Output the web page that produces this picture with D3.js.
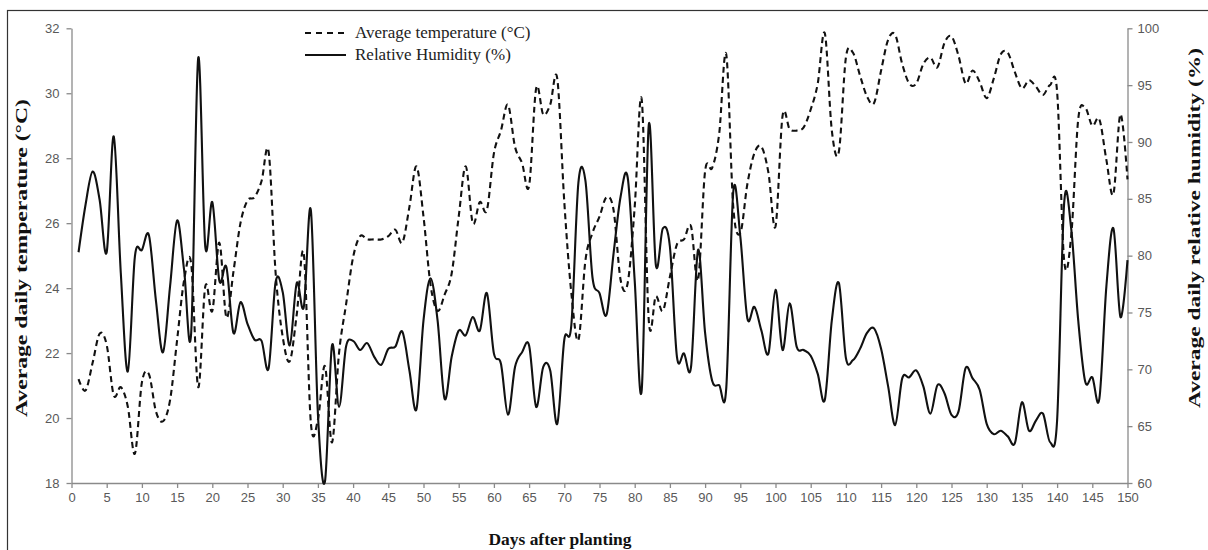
<!DOCTYPE html>
<html>
<head>
<meta charset="utf-8">
<script src="https://cdn.jsdelivr.net/npm/d3@7"></script>
<style>
  html, body { margin: 0; padding: 0; background: #fff; }
  svg { display: block; }
</style>
</head>
<body>
<svg id="chart" width="1208" height="550"></svg>
<script>
// ---------- DATA ----------
const days = d3.range(1, 151);
const temperature = [
  21.2, 20.85, 21.7, 22.6, 22.25, 20.7, 20.95, 20.35, 18.9, 21.1,
  21.35, 20.2, 19.9, 20.55, 22.4, 24.25, 24.75, 20.95, 24.05, 23.3,
  25.4, 23.1, 24.5, 26.0, 26.7, 26.8, 27.3, 28.2, 24.45, 22.5,
  21.75, 23.2, 25.05, 19.85, 19.95, 21.6, 19.25, 22.0, 23.5, 24.95,
  25.6, 25.5, 25.5, 25.5, 25.6, 25.8, 25.4, 26.5, 27.75, 26.2,
  24.1, 23.3, 23.8, 24.45, 26.2, 27.75, 26.0, 26.65, 26.4, 28.15,
  28.85, 29.65, 28.35, 27.85, 27.15, 30.15, 29.35, 29.65, 30.45, 26.65,
  23.85, 22.4, 24.85, 25.7, 26.2, 26.8, 26.4, 24.25, 24.15, 26.5,
  29.8, 23.0, 23.75, 23.3, 24.35, 25.35, 25.5, 25.9, 24.25, 27.6,
  27.7, 28.75, 31.2, 26.5, 25.7, 27.2, 28.15, 28.35, 27.55, 25.9,
  29.3, 28.9, 28.85, 28.95, 29.5, 30.3, 31.85, 28.85, 28.2, 31.1,
  31.25, 30.55, 29.9, 29.7, 30.7, 31.65, 31.8, 30.9, 30.3, 30.3,
  30.9, 31.1, 30.8, 31.55, 31.75, 31.15, 30.3, 30.7, 30.35, 29.85,
  30.45, 31.2, 31.25, 30.65, 30.15, 30.4, 30.2, 29.95, 30.25, 30.05,
  24.85, 25.6, 29.2, 29.55, 29.0, 29.2, 27.95, 26.9, 29.35, 27.35
];
const humidity = [
  80.3, 84.5, 87.4, 84.9, 80.3, 90.5, 78.5, 69.8, 79.9, 80.5,
  81.8, 76.0, 71.5, 77.3, 83.1, 78.7, 73.2, 97.4, 80.8, 84.7,
  77.8, 79.0, 73.2, 75.9, 74.0, 72.6, 72.5, 70.1, 77.7, 76.8,
  72.1, 77.6, 75.5, 84.0, 66.1, 60.1, 72.1, 66.7, 72.0, 72.5,
  71.7, 72.3, 71.1, 70.4, 71.8, 72.0, 73.3, 69.9, 66.5, 74.3,
  78.0, 74.3, 67.4, 71.1, 73.4, 73.0, 74.6, 73.4, 76.7, 71.4,
  70.5, 66.0, 70.2, 71.5, 72.1, 66.7, 70.2, 69.9, 65.2, 72.6,
  73.9, 86.4, 86.6, 78.1, 76.7, 74.8, 80.2, 85.2, 86.9, 77.8,
  68.2, 91.5, 79.2, 82.4, 80.8, 71.1, 71.4, 70.2, 80.5, 73.2,
  69.0, 68.6, 68.3, 85.6, 81.7, 74.5, 75.5, 73.4, 71.4, 77.0,
  71.7, 75.8, 72.0, 71.7, 71.2, 69.6, 67.3, 74.3, 77.6, 71.0,
  70.8, 71.8, 73.2, 73.6, 71.8, 68.5, 65.1, 69.2, 69.3, 69.9,
  68.5, 66.1, 68.6, 67.9, 66.0, 66.3, 70.1, 69.2, 68.2, 65.2,
  64.3, 64.6, 64.1, 63.5, 67.1, 64.6, 65.5, 66.1, 63.6, 65.5,
  84.6, 82.4, 74.3, 68.9, 69.3, 67.4, 77.3, 82.4, 74.6, 79.6
];
const xTicks = [0,5,10,15,20,25,30,35,40,45,50,55,60,65,70,75,80,85,90,95,100,105,110,115,120,125,130,135,140,145,150];
const tempTicks = [18, 20, 22, 24, 26, 28, 30, 32];
const humTicks = [60, 65, 70, 75, 80, 85, 90, 95, 100];
const seriesNames = ["Average temperature (\u00B0C)", "Relative Humidity (%)"];
const xTitle = "Days after planting";
const yLeftTitle = "Average daily temperature (\u00B0C)";
const yRightTitle = "Average daily relative humidity (%)";

// ---------- LAYOUT ----------
const L = 71.5, R = 1127.5, T = 28.3, B = 483;
const axisColor = "#8a8a8a", tickText = "#595959";
const svg = d3.select("#chart");

// outer frame (cut by the image edges)
svg.append("rect").attr("x", 7.5).attr("y", 10.5).attr("width", 1250).attr("height", 600)
  .attr("fill", "none").attr("stroke", "#333").attr("stroke-width", 1.2);

const x = d3.scaleLinear().domain([0, 150]).range([L, R]);
const yT = d3.scaleLinear().domain([18, 32]).range([B, T]);
const yH = d3.scaleLinear().domain([60, 100]).range([B, T]);

function styleAxis(g) {
  g.select(".domain").attr("stroke", axisColor).attr("stroke-width", 1.3);
  g.selectAll(".tick line").attr("stroke", axisColor).attr("stroke-width", 1.3);
  g.selectAll(".tick text").attr("fill", tickText)
    .style("font-family", "'Liberation Sans Narrow', 'Liberation Sans', Arial, sans-serif")
    .style("font-size", "13px");
}

svg.append("g").attr("transform", `translate(0,${B})`)
  .call(d3.axisBottom(x).tickValues(xTicks).tickSize(5).tickSizeOuter(0).tickPadding(5).tickFormat(d3.format("d")))
  .call(styleAxis);

svg.append("g").attr("transform", `translate(${L},0)`)
  .call(d3.axisLeft(yT).tickValues(tempTicks).tickSize(5).tickSizeOuter(0).tickPadding(7).tickFormat(d3.format("d")))
  .call(styleAxis);

svg.append("g").attr("transform", `translate(${R},0)`)
  .call(d3.axisRight(yH).tickValues(humTicks).tickSize(5).tickSizeOuter(0).tickPadding(5).tickFormat(d3.format("d")))
  .call(styleAxis);

// ---------- LINES ----------
const curve = d3.curveCardinal.tension(0);
const lineT = d3.line().x((d, i) => x(days[i])).y(d => yT(d)).curve(curve);
const lineH = d3.line().x((d, i) => x(days[i])).y(d => yH(d)).curve(curve);

svg.append("path").datum(humidity).attr("d", lineH)
  .attr("fill", "none").attr("stroke", "#111").attr("stroke-width", 2.1).attr("stroke-linejoin", "round");
svg.append("path").datum(temperature).attr("d", lineT)
  .attr("fill", "none").attr("stroke", "#111").attr("stroke-width", 2.1)
  .attr("stroke-dasharray", "6,4");

// ---------- LEGEND ----------
const legend = svg.append("g");
const legRows = [
  { name: seriesNames[0], dash: "6,5", y: 38 },
  { name: seriesNames[1], dash: null, y: 60 }
];
legRows.forEach(r => {
  legend.append("line").attr("x1", 305).attr("x2", 346).attr("y1", r.y - 5).attr("y2", r.y - 5)
    .attr("stroke", "#111").attr("stroke-width", 2)
    .attr("stroke-dasharray", r.dash);
  legend.append("text").attr("x", 355).attr("y", r.y).text(r.name)
    .style("font-family", "'Liberation Serif', 'Times New Roman', serif")
    .style("font-size", "17px").attr("fill", "#222");
});

// ---------- TITLES ----------
const serifBold = "'Liberation Serif', 'Times New Roman', serif";
svg.append("text").attr("x", 560).attr("y", 545).attr("text-anchor", "middle")
  .text(xTitle).attr("textLength", 143).attr("lengthAdjust", "spacingAndGlyphs")
  .style("font-family", serifBold).style("font-weight", "bold").style("font-size", "17px").attr("fill", "#111");

svg.append("text").attr("transform", "translate(27,258) rotate(-90)").attr("text-anchor", "middle")
  .text(yLeftTitle).attr("textLength", 318).attr("lengthAdjust", "spacingAndGlyphs")
  .style("font-family", serifBold).style("font-weight", "bold").style("font-size", "17px").attr("fill", "#111");

svg.append("text").attr("transform", "translate(1200,228) rotate(-90)").attr("text-anchor", "middle")
  .text(yRightTitle).attr("textLength", 360).attr("lengthAdjust", "spacingAndGlyphs")
  .style("font-family", serifBold).style("font-weight", "bold").style("font-size", "17px").attr("fill", "#111");
</script>
</body>
</html>
